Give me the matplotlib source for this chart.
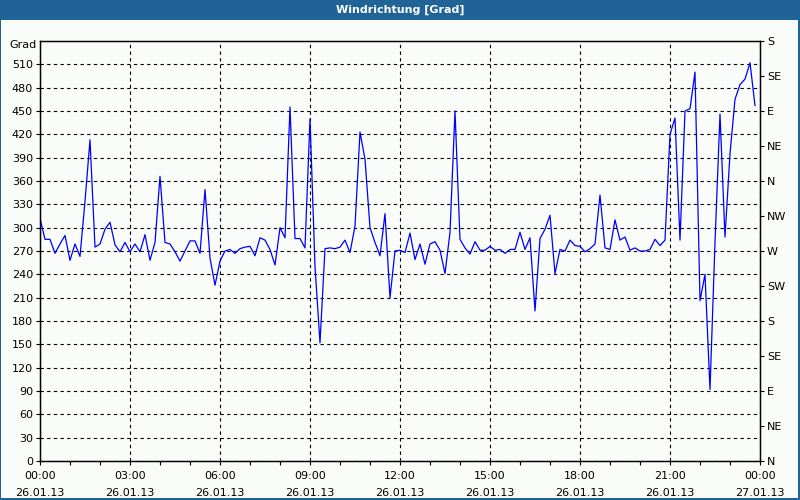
import matplotlib
matplotlib.use("Agg")
import matplotlib.pyplot as plt
from matplotlib.patches import Rectangle
import numpy as np

# Windrichtung, 10-Minuten-Werte vom 26.01.13 (00:00 bis 23:50)
direction = [312, 285, 285, 267, 279, 290, 258, 279, 263, 334,
             413, 275, 279, 298, 307, 278, 269, 281, 269, 279,
             269, 291, 258, 281, 366, 281, 279, 269, 257, 270,
             283, 283, 267, 349, 261, 226, 257, 270, 272, 267,
             273, 275, 276, 264, 287, 284, 272, 252, 300, 287,
             455, 286, 286, 274, 440, 250, 152, 273, 274, 273,
             275, 284, 268, 302, 423, 388, 300, 281, 264, 318,
             210, 270, 271, 268, 293, 259, 279, 253, 279, 282,
             271, 241, 294, 450, 285, 274, 266, 282, 271, 271,
             276, 271, 272, 267, 272, 272, 294, 272, 287, 193,
             286, 298, 316, 241, 272, 270, 284, 277, 276, 269,
             273, 279, 342, 274, 272, 310, 284, 288, 271, 274,
             270, 270, 272, 285, 277, 284, 420, 441, 284, 450,
             453, 500, 206, 240, 92, 281, 446, 288, 395, 465,
             484, 491, 512, 457]
hours = np.arange(len(direction)) / 6.0

time_ticks = [0, 3, 6, 9, 12, 15, 18, 21, 24]
time_labels = ["00:00\n26.01.13", "03:00\n26.01.13", "06:00\n26.01.13",
               "09:00\n26.01.13", "12:00\n26.01.13", "15:00\n26.01.13",
               "18:00\n26.01.13", "21:00\n26.01.13", "00:00\n27.01.13"]
grad_ticks = list(range(0, 511, 30))
compass_ticks = list(range(0, 541, 45))
compass_labels = ["N", "NE", "E", "SE", "S", "SW", "W", "NW",
                  "N", "NE", "E", "SE", "S"]

blue = "#1f6397"
bg = "#f9fcf9"

plt.rcParams["font.family"] = ["DejaVu Sans"]
plt.rcParams["font.size"] = 8

fig = plt.figure(figsize=(8, 5), dpi=100, facecolor=blue)
# heller Innenbereich und Titelleiste
fig.patches.append(Rectangle((1 / 800, 2 / 500), 797 / 800, 478 / 500,
                             transform=fig.transFigure, facecolor=bg,
                             edgecolor="none", zorder=-5))
fig.text(0.5, 1 - 10 / 500, "Windrichtung [Grad]", color="white",
         fontweight="bold", ha="center", va="center", fontsize=8)

ax = fig.add_axes([40 / 800, 39 / 500, 720 / 800, 420 / 500])
ax.set_facecolor(bg)
ax.plot(hours, direction, color="#0000ff", lw=0.9, zorder=3)

ax.set_xlim(0, 24)
ax.set_ylim(0, 540)
ax.set_xticks(time_ticks)
ax.set_xticklabels(time_labels, linespacing=1.9)
ax.set_xticks(range(0, 25), minor=True)
ax.set_yticks(grad_ticks)
ax.tick_params(axis="both", which="both", direction="out", length=3,
               width=0.8, color="black", labelsize=8, pad=2)
ax.tick_params(axis="x", pad=4)

ax.grid(True, which="major", color="black", linestyle=(0, (3, 3)), lw=0.8)
for s in ax.spines.values():
    s.set_linewidth(1.0)

ax2 = ax.twinx()
ax2.set_ylim(0, 540)
ax2.set_yticks(compass_ticks)
ax2.set_yticklabels(compass_labels)
ax2.tick_params(axis="y", direction="out", length=3, width=0.8,
                labelsize=8, pad=2)

fig.text(37 / 800, 1 - 45 / 500, "Grad", ha="right", va="center", fontsize=8)

fig.savefig("out.png", dpi=100, facecolor=blue)
